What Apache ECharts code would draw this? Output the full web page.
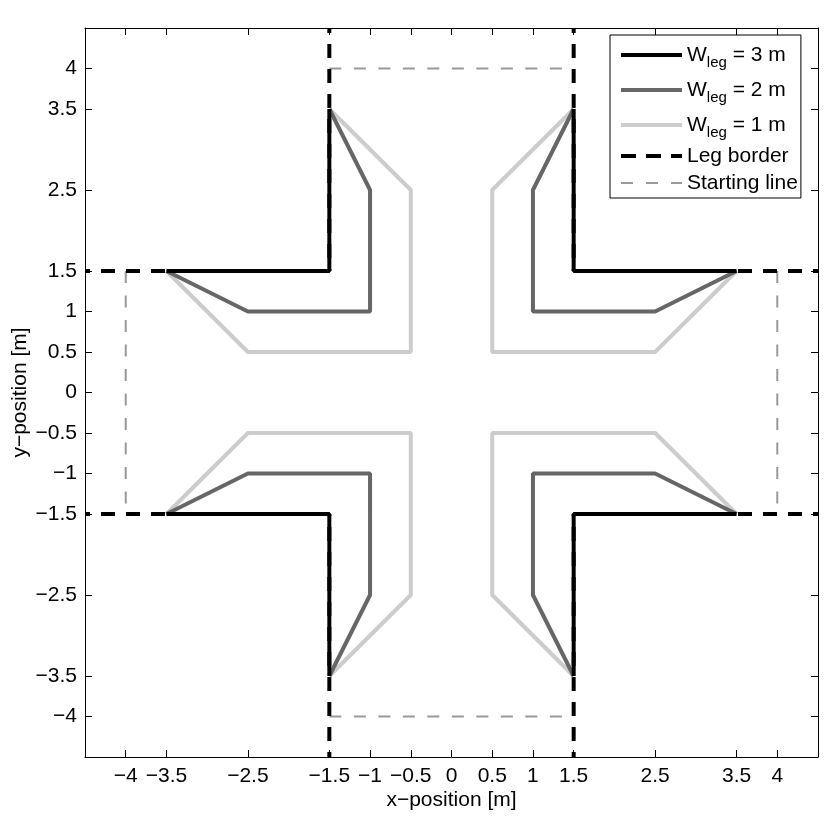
<!DOCTYPE html>
<html>
<head>
<meta charset="utf-8">
<script src="https://cdn.jsdelivr.net/npm/echarts@6/dist/echarts.min.js"></script>
<style>
  html, body { margin: 0; padding: 0; background: #fff; }
  #chart { width: 836px; height: 819px; }
</style>
</head>
<body>
<div id="chart"></div>
<script>
// tick positions (same on both axes)
const tickValues = [-4, -3.5, -2.5, -1.5, -1, -0.5, 0, 0.5, 1, 1.5, 2.5, 3.5, 4]

// W_leg = 3 m paths, one per quadrant
const w3Paths = [
  [[-1.5, 3.5], [-1.5, 1.5], [-3.5, 1.5]],
  [[1.5, 3.5], [1.5, 1.5], [3.5, 1.5]],
  [[-1.5, -3.5], [-1.5, -1.5], [-3.5, -1.5]],
  [[1.5, -3.5], [1.5, -1.5], [3.5, -1.5]]
]
// W_leg = 2 m
const w2Paths = [
  [[-1.5, 3.5], [-1, 2.5], [-1, 1], [-2.5, 1], [-3.5, 1.5]],
  [[1.5, 3.5], [1, 2.5], [1, 1], [2.5, 1], [3.5, 1.5]],
  [[-1.5, -3.5], [-1, -2.5], [-1, -1], [-2.5, -1], [-3.5, -1.5]],
  [[1.5, -3.5], [1, -2.5], [1, -1], [2.5, -1], [3.5, -1.5]]
]
// W_leg = 1 m
const w1Paths = [
  [[-1.5, 3.5], [-0.5, 2.5], [-0.5, 0.5], [-2.5, 0.5], [-3.5, 1.5]],
  [[1.5, 3.5], [0.5, 2.5], [0.5, 0.5], [2.5, 0.5], [3.5, 1.5]],
  [[-1.5, -3.5], [-0.5, -2.5], [-0.5, -0.5], [-2.5, -0.5], [-3.5, -1.5]],
  [[1.5, -3.5], [0.5, -2.5], [0.5, -0.5], [2.5, -0.5], [3.5, -1.5]]
]
// leg borders (drawn from the axis box inwards)
const borderPaths = [
  [[-1.5, 4.5], [-1.5, 1.5]],
  [[1.5, 4.5], [1.5, 1.5]],
  [[-1.5, -4.5], [-1.5, -1.5]],
  [[1.5, -4.5], [1.5, -1.5]],
  [[-4.5, 1.5], [-1.5, 1.5]],
  [[4.5, 1.5], [1.5, 1.5]],
  [[-4.5, -1.5], [-1.5, -1.5]],
  [[4.5, -1.5], [1.5, -1.5]]
]
// starting lines
const startPaths = [
  [[-1.5, 4], [1.5, 4]],
  [[-1.5, -4], [1.5, -4]],
  [[-4, 1.5], [-4, -1.5]],
  [[4, 1.5], [4, -1.5]]
]

// join separate paths into one line series, '-' breaks the line
function joinPaths(paths) {
  const out = []
  paths.forEach((p, i) => {
    if (i > 0) out.push('-')
    p.forEach(pt => out.push(pt))
  })
  return out
}

const FONT = 'Liberation Sans, Arial, Helvetica, sans-serif'
const FS = 21
const minus = v => String(v).replace('-', '\u2212')

function boxAxis(pos, showLabel, extra) {
  return Object.assign({
    type: 'value',
    position: pos,
    min: -4.5,
    max: 4.5,
    axisLine: { show: true, onZero: false, lineStyle: { color: '#000', width: 1 } },
    axisTick: { show: true, inside: true, length: 7, customValues: tickValues, lineStyle: { color: '#000' } },
    axisLabel: {
      show: showLabel,
      customValues: tickValues,
      formatter: minus,
      color: '#000',
      fontFamily: FONT,
      fontSize: FS
    },
    splitLine: { show: false }
  }, extra || {})
}

// legend icons: 61 x 4 boxes
const solidIcon = 'path://M0,0h61v4h-61z'
const borderIcon = 'path://M0,0h15v4h-15z M25,0h15v4h-15z M50,0h11v4h-11z'
const startIcon = 'path://M0,0 M0,1h12v2h-12z M25,1h12v2h-12z M50,1h11v2h-11z M61,4'
const clear = 'rgba(255,255,255,0)'

const chart = echarts.init(document.getElementById('chart'))

chart.setOption({
  backgroundColor: '#fff',
  animation: false,
  grid: { left: 85, right: 18, top: 28, bottom: 62, containLabel: false, outerBoundsMode: 'none' },
  xAxis: [
    boxAxis('bottom', true, {
      name: 'x\u2212position [m]',
      nameLocation: 'middle',
      nameGap: 33,
      nameMoveOverlap: false,
      nameTextStyle: { color: '#000', fontFamily: FONT, fontSize: FS },
      axisLabel: {
        customValues: tickValues, formatter: minus, color: '#000',
        fontFamily: FONT, fontSize: FS, margin: 9
      }
    }),
    boxAxis('top', false)
  ],
  yAxis: [
    boxAxis('left', true, {
      name: 'y\u2212position [m]',
      nameLocation: 'middle',
      nameGap: 54,
      nameMoveOverlap: false,
      nameTextStyle: { color: '#000', fontFamily: FONT, fontSize: FS },
      axisLabel: {
        customValues: tickValues, formatter: minus, color: '#000',
        fontFamily: FONT, fontSize: FS, margin: 8
      }
    }),
    boxAxis('right', false)
  ],
  legend: {
    data: [
      { name: 'W3', icon: solidIcon, itemStyle: { color: '#000', borderWidth: 0 } },
      { name: 'W2', icon: solidIcon, itemStyle: { color: '#666666', borderWidth: 0 } },
      { name: 'W1', icon: solidIcon, itemStyle: { color: '#cccccc', borderWidth: 0 } },
      { name: 'Leg border', icon: borderIcon, itemStyle: { color: '#000', borderWidth: 0 } },
      { name: 'Starting line', icon: startIcon, itemStyle: { color: '#999', borderWidth: 0 } }
    ],
    orient: 'vertical',
    left: 610,
    top: 35,
    padding: [5, 3, 4, 11],
    itemGap: 5,
    itemWidth: 61,
    itemHeight: 4,
    backgroundColor: '#fff',
    borderColor: '#000',
    borderWidth: 1,
    borderRadius: 0,
    formatter: function (name) {
      const sub = { W3: '3', W2: '2', W1: '1' }
      if (sub[name]) return '{w|W}{s|leg}{w| = ' + sub[name] + ' m}'
      return '{t|' + name + '}'
    },
    textStyle: {
      color: '#000',
      fontFamily: FONT,
      fontSize: FS,
      rich: {
        w: { fontSize: FS, fontFamily: FONT, color: '#000', height: 30, lineHeight: 30, backgroundColor: clear },
        s: { fontSize: 15, fontFamily: FONT, color: '#000', lineHeight: 30, verticalAlign: 'bottom' },
        t: { fontSize: FS, fontFamily: FONT, color: '#000', height: 22, lineHeight: 22, backgroundColor: clear }
      }
    }
  },
  series: [
    {
      name: 'Starting line',
      type: 'line',
      symbol: 'none',
      data: joinPaths(startPaths),
      lineStyle: { color: '#999', width: 2, type: [12, 12.5] },
      itemStyle: { color: '#999' }
    },
    {
      name: 'Leg border',
      type: 'line',
      symbol: 'none',
      data: joinPaths(borderPaths),
      lineStyle: { color: '#000', width: 4, type: [14, 11], dashOffset: 9 },
      itemStyle: { color: '#000' }
    },
    {
      name: 'W1',
      type: 'line',
      symbol: 'none',
      data: joinPaths(w1Paths),
      lineStyle: { color: '#cccccc', width: 4 },
      itemStyle: { color: '#cccccc' }
    },
    {
      name: 'W2',
      type: 'line',
      symbol: 'none',
      data: joinPaths(w2Paths),
      lineStyle: { color: '#666666', width: 4 },
      itemStyle: { color: '#666666' }
    },
    {
      name: 'W3',
      type: 'line',
      symbol: 'none',
      data: joinPaths(w3Paths),
      lineStyle: { color: '#000', width: 4 },
      itemStyle: { color: '#000' }
    }
  ]
})
</script>
</body>
</html>
